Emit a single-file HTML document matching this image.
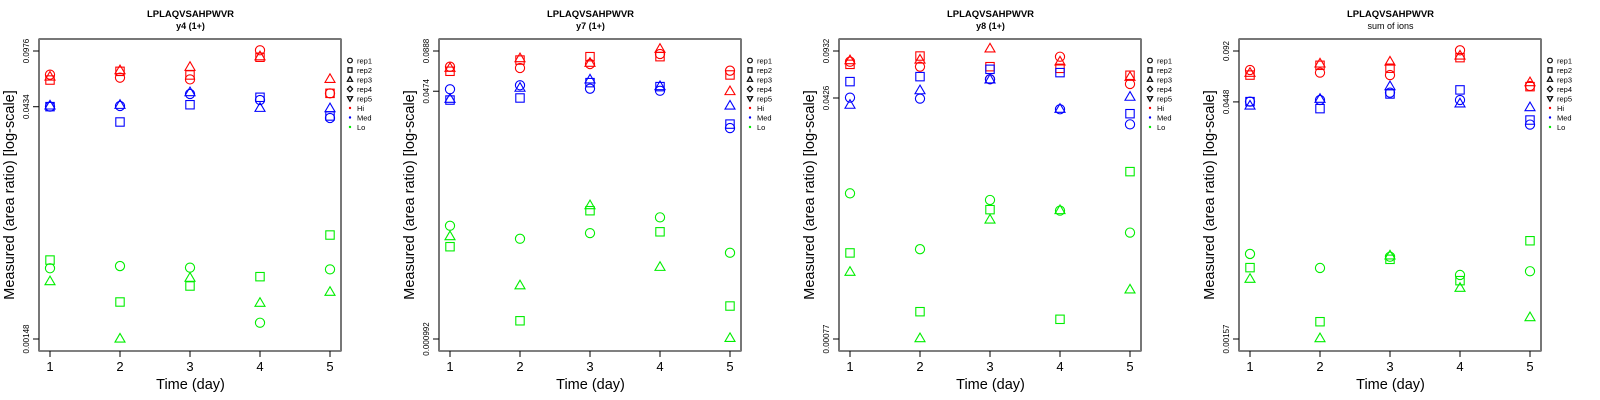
<!DOCTYPE html>
<html><head><meta charset="utf-8"><style>
body{margin:0;background:#fff;}
svg{display:block;font-family:"Liberation Sans",sans-serif;}
</style></head><body>
<svg id="chart" width="1600" height="400" viewBox="0 0 1600 400" xmlns="http://www.w3.org/2000/svg"></svg>
<script>
// Panel metadata
const panelSubtitles = ["y4 (1+)", "y7 (1+)", "y8 (1+)", "sum of ions"];
const panelTopTick = [0.0976, 0.0888, 0.0932, 0.092];
const panelMidTick = [0.0434, 0.0474, 0.0426, 0.0448];
const panelBotTick = [0.00148, 0.000992, 0.00077, 0.00157];
const panelTopLabel = ["0.0976", "0.0888", "0.0932", "0.092"];
const panelMidLabel = ["0.0434", "0.0474", "0.0426", "0.0448"];
const panelBotLabel = ["0.00148", "0.000992", "0.00077", "0.00157"];
const days = [1, 2, 3, 4, 5];
// log10(area ratio); per panel, [rep1, rep2, rep3] each over days 1..5
const hiLog = [
  [[-1.160,-1.179,-1.190,-1.006,-1.278],[-1.194,-1.139,-1.162,-1.050,-1.278],[-1.175,-1.135,-1.114,-1.047,-1.190]],
  [[-1.158,-1.167,-1.140,-1.072,-1.185],[-1.189,-1.113,-1.090,-1.090,-1.214],[-1.169,-1.104,-1.135,-1.040,-1.327]],
  [[-1.108,-1.144,-1.235,-1.072,-1.269],[-1.127,-1.067,-1.144,-1.156,-1.206],[-1.101,-1.096,-1.016,-1.110,-1.221]],
  [[-1.153,-1.169,-1.184,-1.032,-1.251],[-1.184,-1.124,-1.142,-1.077,-1.255],[-1.173,-1.116,-1.104,-1.067,-1.231]]
];
const medLog = [
  [[-1.362,-1.358,-1.282,-1.320,-1.434],[-1.362,-1.459,-1.350,-1.303,-1.421],[-1.358,-1.354,-1.274,-1.373,-1.375]],
  [[-1.311,-1.284,-1.307,-1.321,-1.574],[-1.384,-1.370,-1.266,-1.293,-1.547],[-1.379,-1.304,-1.248,-1.293,-1.425]],
  [[-1.368,-1.375,-1.235,-1.452,-1.561],[-1.252,-1.216,-1.163,-1.187,-1.484],[-1.423,-1.318,-1.240,-1.452,-1.365]],
  [[-1.347,-1.337,-1.292,-1.337,-1.488],[-1.347,-1.390,-1.300,-1.275,-1.460],[-1.374,-1.333,-1.255,-1.361,-1.384]]
];
const loLog = [
  [[-2.383,-2.369,-2.379,-2.727,-2.390],[-2.331,-2.596,-2.495,-2.436,-2.173],[-2.468,-2.830,-2.446,-2.604,-2.535]],
  [[-2.236,-2.324,-2.286,-2.179,-2.419],[-2.378,-2.880,-2.134,-2.277,-2.780],[-2.310,-2.643,-2.100,-2.518,-3.000]],
  [[-2.060,-2.464,-2.108,-2.185,-2.344],[-2.491,-2.916,-2.178,-2.971,-1.903],[-2.631,-3.111,-2.253,-2.185,-2.759]],
  [[-2.282,-2.368,-2.299,-2.411,-2.388],[-2.366,-2.698,-2.315,-2.446,-2.201],[-2.438,-2.802,-2.294,-2.493,-2.673]]
];
const groupNames = ["hi", "med", "lo"];
const groupColors = ["#ff0000", "#0000ff", "#00ee00"];
const repNames = ["rep1", "rep2", "rep3"];
const legendLabels = ["rep1","rep2","rep3","rep4","rep5","Hi","Med","Lo"];

const NS = "http://www.w3.org/2000/svg";
const svg = document.getElementById("chart");
function mk(tag, attrs, parent, text){
  const e = document.createElementNS(NS, tag);
  for (const k in attrs) e.setAttribute(k, attrs[k]);
  if (text !== undefined) e.textContent = text;
  (parent || svg).appendChild(e);
  return e;
}
function shape(kind, cx, cy, color, g){
  let e;
  if (kind === 0) e = mk("circle", {cx:cx, cy:cy, r:4.6, fill:"none", stroke:color, "stroke-width":1.1}, g);
  else if (kind === 1) e = mk("rect", {x:cx-4.2, y:cy-4.2, width:8.4, height:8.4, fill:"none", stroke:color, "stroke-width":1.1}, g);
  else e = mk("polygon", {points:`${cx},${cy-5.6} ${cx-5},${cy+3} ${cx+5},${cy+3}`, fill:"none", stroke:color, "stroke-width":1.1}, g);
  return e;
}

for (let p = 0; p < 4; p++){
  const ox = 400 * p;
  const g = mk("g", {transform:`translate(${ox},0)`});
  
  
  const lt = Math.log10(panelTopTick[p]), lb = Math.log10(panelBotTick[p]);
  const yS = v => 51 + (lt - v) / (lt - lb) * 288;
  const xS = d => 50 + (d - 1) * 70;

  const t1 = mk("text", {x:190.5, y:17, "text-anchor":"middle", "font-size":"9.5", "font-weight":"bold"}, g, "LPLAQVSAHPWVR");
  
  
  const t2 = mk("text", {x:190.5, y:29, "text-anchor":"middle", "font-size":"9", "font-weight": p===3?"normal":"bold"}, g, panelSubtitles[p]);
  
  

  // plot box
  const box = mk("rect", {x:39, y:39, width:302, height:312, fill:"none", stroke:"#000", "stroke-width":1}, g);
  
  
  mk("line", {x1:39, y1:39, x2:39, y2:351, stroke:"#777", "stroke-width":2}, g);
  mk("line", {x1:341, y1:39, x2:341, y2:351, stroke:"#777", "stroke-width":2}, g);
  mk("line", {x1:39, y1:39, x2:341, y2:39, stroke:"#777", "stroke-width":2}, g);

  // x axis
  days.forEach(d => {
    const x = xS(d);
    mk("line", {x1:x, y1:351, x2:x, y2:357, stroke:"#000"}, g);
    const tl = mk("text", {x:x, y:371, "text-anchor":"middle", "font-size":"13"}, g, String(d));
    
    
  });
  const xt = mk("text", {x:190.5, y:389, "text-anchor":"middle", "font-size":"14.5"}, g, "Time (day)");
  
  

  // y axis
  const yt = [[panelTopTick[p], panelTopLabel[p]], [panelMidTick[p], panelMidLabel[p]], [panelBotTick[p], panelBotLabel[p]]];
  yt.forEach(([v, lab]) => {
    const y = yS(Math.log10(v));
    mk("line", {x1:33, y1:y, x2:39, y2:y, stroke:"#000"}, g);
    const tl = mk("text", {x:0, y:0, transform:`translate(29,${y}) rotate(-90)`, "text-anchor":"middle", "font-size":"8"}, g, lab);
    
    
  });
  const ytt = mk("text", {x:0, y:0, transform:"translate(14,195) rotate(-90)", "text-anchor":"middle", "font-size":"14.5"}, g, "Measured (area ratio) [log-scale]");
  
  

  // points
  [hiLog, medLog, loLog].forEach((set, gi) => {
    const sg = mk("g", {}, g);
    
    
    set[p].forEach((vals, ri) => {
      vals.forEach((v, di) => {
        const m = shape(ri, xS(days[di]), yS(v), groupColors[gi], sg);
        
        
      });
    });
  });

  // legend
  const lg = mk("g", {}, g);
  
  
  legendLabels.forEach((lab, i) => {
    const y = 60.5 + i * 9.5;
    const sx = 350;
    if (i === 0) mk("circle", {cx:sx, cy:y, r:2.3, fill:"none", stroke:"#000", "stroke-width":1.2}, lg);
    else if (i === 1) mk("rect", {x:sx-2, y:y-2.2, width:4, height:4.4, fill:"none", stroke:"#000", "stroke-width":1.2}, lg);
    else if (i === 2) mk("polygon", {points:`${sx},${y-2.8} ${sx-2.6},${y+1.8} ${sx+2.6},${y+1.8}`, fill:"none", stroke:"#000", "stroke-width":1.2}, lg);
    else if (i === 3) mk("polygon", {points:`${sx},${y-2.8} ${sx+2.6},${y} ${sx},${y+2.8} ${sx-2.6},${y}`, fill:"none", stroke:"#000", "stroke-width":1.2}, lg);
    else if (i === 4) mk("polygon", {points:`${sx},${y+2.8} ${sx-2.6},${y-1.8} ${sx+2.6},${y-1.8}`, fill:"none", stroke:"#000", "stroke-width":1.2}, lg);
    else mk("circle", {cx:sx, cy:y, r:1.2, fill:groupColors[i-5]}, lg);
    const te = mk("text", {x:357, y:y+3, "font-size":"7.5"}, lg, lab);
    
    
  });
}
</script>
</body></html>
